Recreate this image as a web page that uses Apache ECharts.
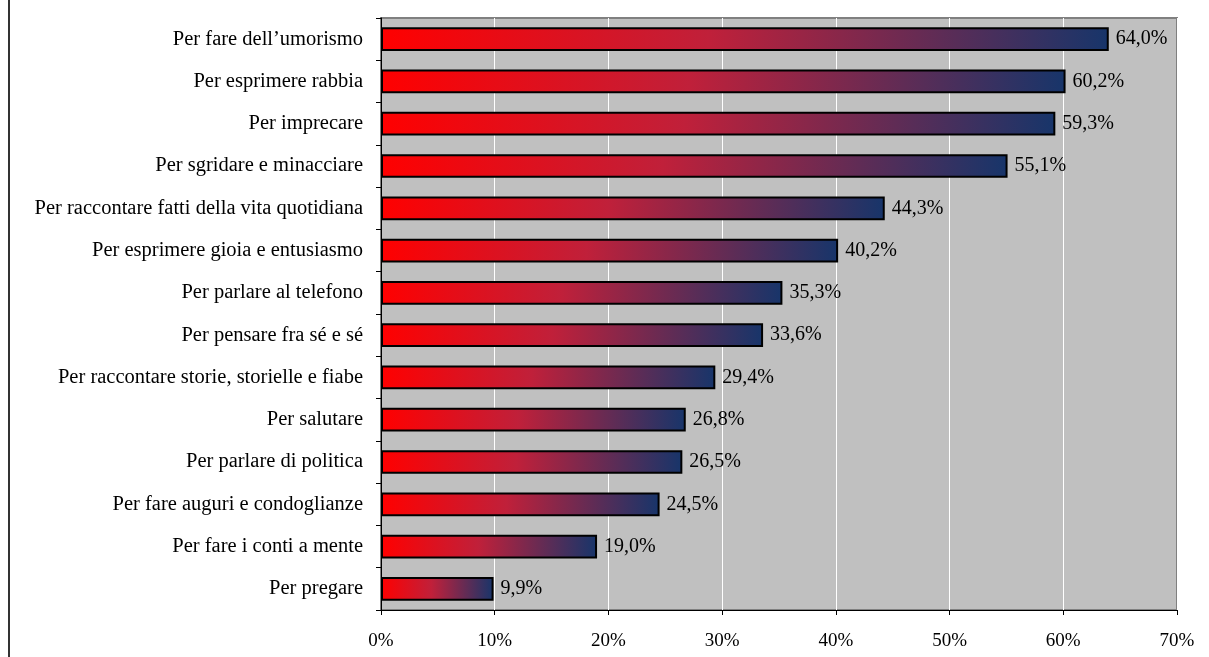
<!DOCTYPE html>
<html><head><meta charset="utf-8">
<script src="https://cdn.jsdelivr.net/npm/echarts@6/dist/echarts.min.js"></script>
<style>html,body{margin:0;padding:0;background:#fff;}#c{width:1209px;height:657px;}</style>
</head><body><div id="c"></div>
<script>
var categories = ["Per fare dell\u2019umorismo","Per esprimere rabbia","Per imprecare","Per sgridare e minacciare","Per raccontare fatti della vita quotidiana","Per esprimere gioia e entusiasmo","Per parlare al telefono","Per pensare fra sé e sé","Per raccontare storie, storielle e fiabe","Per salutare","Per parlare di politica","Per fare auguri e condoglianze","Per fare i conti a mente","Per pregare"];
var values = [64.0,60.2,59.3,55.1,44.3,40.2,35.3,33.6,29.4,26.8,26.5,24.5,19.0,9.9];
var xTicks = [0,10,20,30,40,50,60,70];

var chart = echarts.init(document.getElementById('c'), null, {renderer:'canvas'});
var font = '"Liberation Serif", "Times New Roman", serif';
chart.setOption({
  animation:false,
  textStyle:{fontFamily:font},
  graphic:[{type:'rect',shape:{x:8,y:0,width:2,height:657},style:{fill:'#333333'}}],
  grid:{left:381,right:32,top:18,bottom:47,show:true,backgroundColor:'#C0C0C0',borderColor:'#808080',borderWidth:2},
  xAxis:{type:'value',min:xTicks[0],max:xTicks[xTicks.length-1],interval:10,
    axisLine:{show:true,lineStyle:{color:'#000',width:1}},
    axisTick:{show:true,length:5,lineStyle:{color:'#000'}},
    axisLabel:{formatter:function(v){return v+'%';},color:'#000',fontFamily:font,fontSize:19,margin:22},
    splitLine:{show:true,lineStyle:{color:'#ffffff',width:1}}},
  yAxis:{type:'category',data:categories,inverse:true,
    axisLine:{show:true,lineStyle:{color:'#000',width:1}},
    axisTick:{show:true,length:5,lineStyle:{color:'#000'}},
    axisLabel:{color:'#000',fontFamily:font,fontSize:20.5,margin:18}},
  series:[{type:'bar',data:values,barWidth:'56%',
    itemStyle:{borderColor:'#000',borderWidth:2,
      color:new echarts.graphic.LinearGradient(0,0,1,0,[{offset:0,color:'#FF0000'},{offset:0.45,color:'#C0203A'},{offset:1,color:'#17356A'}])},
    label:{show:true,position:'right',distance:7,color:'#000',fontFamily:font,fontSize:20,
      formatter:function(p){return p.value.toFixed(1).replace('.',',')+'%';}}}]
});
</script></body></html>
